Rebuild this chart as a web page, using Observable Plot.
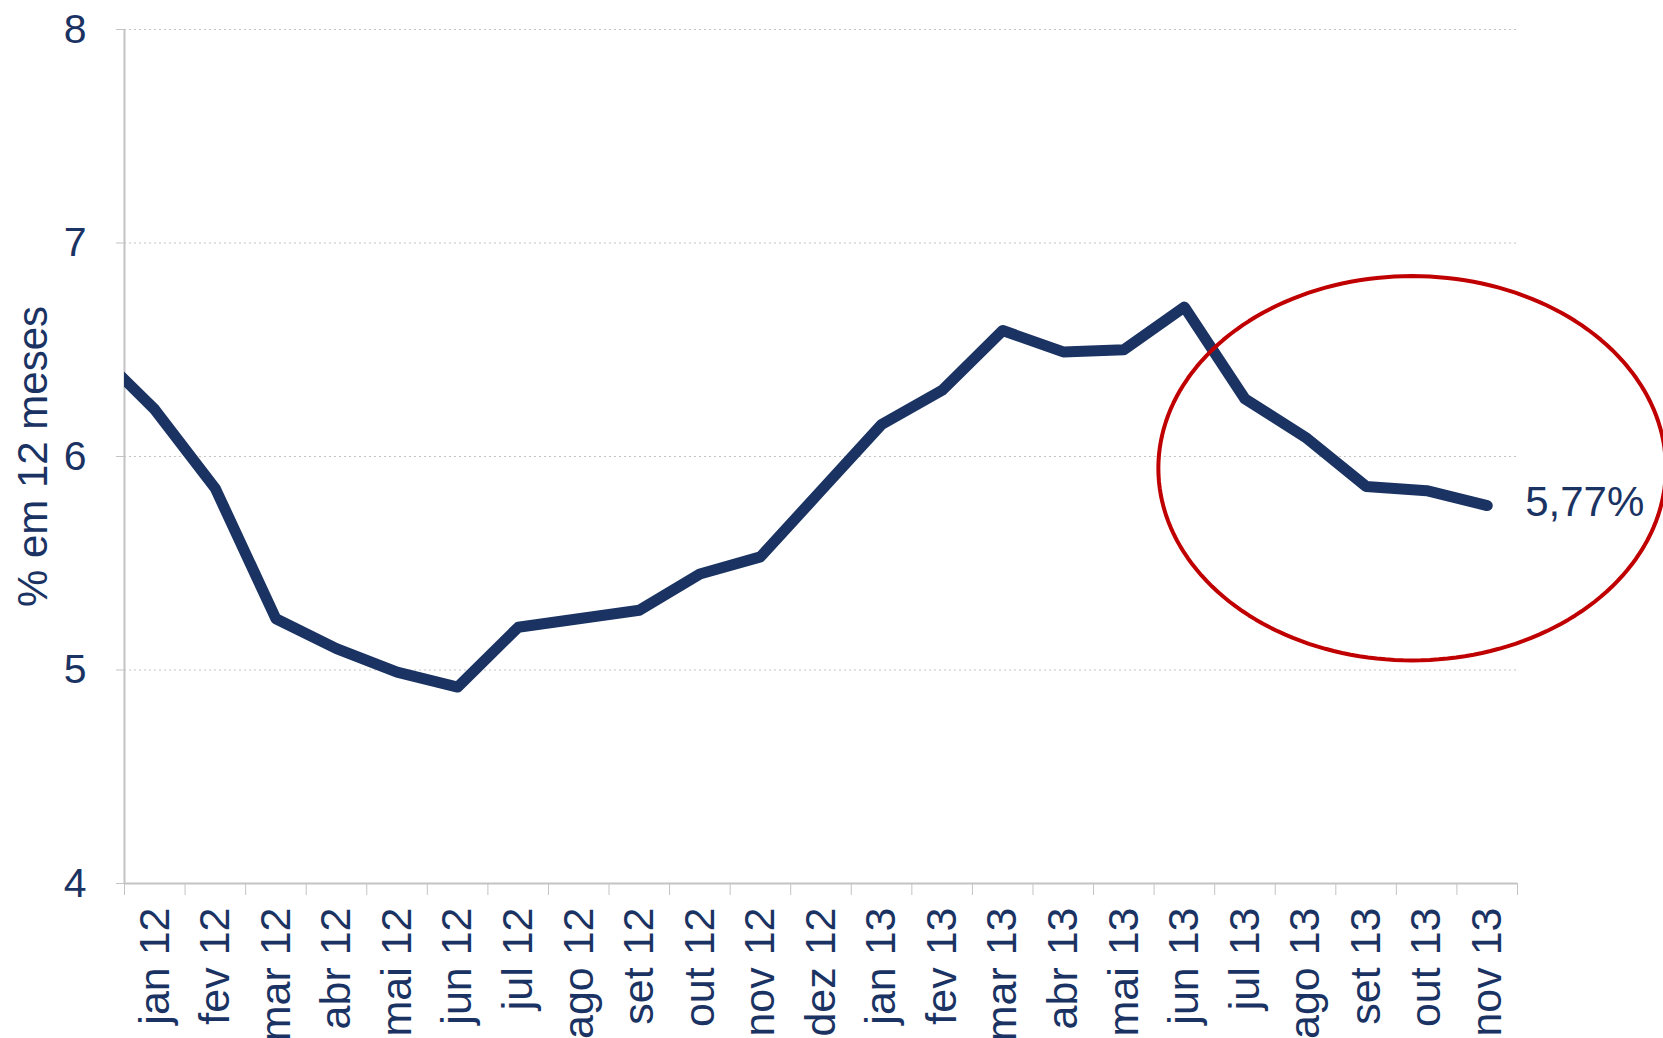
<!DOCTYPE html>
<html><head><meta charset="utf-8">
<script src="https://cdn.jsdelivr.net/npm/d3@7"></script>
<script src="https://cdn.jsdelivr.net/npm/@observablehq/plot@0.6"></script>
<style>html,body{margin:0;padding:0;background:#fff;overflow:hidden}</style>
</head><body><div id="chart"></div>
<script>
// Data
const months = ["jan 12","fev 12","mar 12","abr 12","mai 12","jun 12","jul 12","ago 12","set 12","out 12","nov 12","dez 12",
                "jan 13","fev 13","mar 13","abr 13","mai 13","jun 13","jul 13","ago 13","set 13","out 13","nov 13"];
const values = [6.22,5.85,5.24,5.10,4.99,4.92,5.20,5.24,5.28,5.45,5.53,5.84,
                6.15,6.31,6.59,6.49,6.50,6.70,6.27,6.09,5.86,5.84,5.77];
const prevMonth = "dez 11";   // previous point, line enters from the axis
const prevValue = 6.50;
const yTicks = [4,5,6,7,8];
const yLabel = "% em 12 meses";
const endLabel = "5,77%";
// highlight ellipse (in month-index / value units)
const ellipseCenter = [20.76, 5.945];
const ellipseRadii = [4.19, 0.9];

const navy = "#1b3363";
const gray = "#c3c3c3";
const font = "'Liberation Sans', Arial, sans-serif";

const series = [{i: -1, v: prevValue, m: prevMonth}, ...values.map((v, i) => ({i, v, m: months[i]}))];
const idx = months.map((_, i) => i);
const bounds = d3.range(-0.5, months.length, 1);
const ellipse = d3.range(0, 361, 2).map(a => ({
  i: ellipseCenter[0] + ellipseRadii[0] * Math.cos(a * Math.PI / 180),
  v: ellipseCenter[1] + ellipseRadii[1] * Math.sin(a * Math.PI / 180)
}));
const last = series[series.length - 1];

const chart = Plot.plot({
  width: 1663,
  height: 1038,
  marginLeft: 124,
  marginRight: 146,
  marginTop: 29,
  marginBottom: 155,
  style: {fontFamily: font, background: "#fff", overflow: "visible"},
  x: {type: "linear", domain: [-0.5, months.length - 0.5]},
  y: {domain: [4, 8]},
  marks: [
    Plot.gridY(yTicks.filter(t => t > 4), {stroke: gray, strokeOpacity: 1, strokeDasharray: "2,3", strokeWidth: 1.2}),
    Plot.ruleX([-0.5], {stroke: gray, strokeWidth: 2}),
    Plot.ruleY([4], {stroke: gray, strokeWidth: 2}),
    Plot.axisY({ticks: yTicks, tickSize: 8, tickPadding: 30, stroke: gray, fill: navy, fontSize: 41, label: null, tickFormat: d => String(d)}),
    Plot.axisX({ticks: bounds, tickSize: 12, stroke: gray, tickFormat: () => "", label: null}),
    Plot.axisX({ticks: idx, tickSize: 0, tickPadding: 24, tickRotate: -90, tickFormat: i => months[i], fill: navy, fontSize: 43, label: null}),
    Plot.text([yLabel], {frameAnchor: "left", textAnchor: "middle", dx: -91, rotate: -90, fill: navy, fontSize: 42, text: d => d}),
    Plot.line(series, {x: "i", y: "v", stroke: navy, strokeWidth: 11, strokeLinejoin: "round", strokeLinecap: "round", clip: true}),
    Plot.line(ellipse, {x: "i", y: "v", stroke: "#c00000", strokeWidth: 4}),
    Plot.text([last], {x: "i", y: "v", text: () => endLabel, textAnchor: "start", dx: 38, dy: -3, fill: navy, fontSize: 42})
  ]
});
document.getElementById("chart").append(chart);
</script>
</body></html>
